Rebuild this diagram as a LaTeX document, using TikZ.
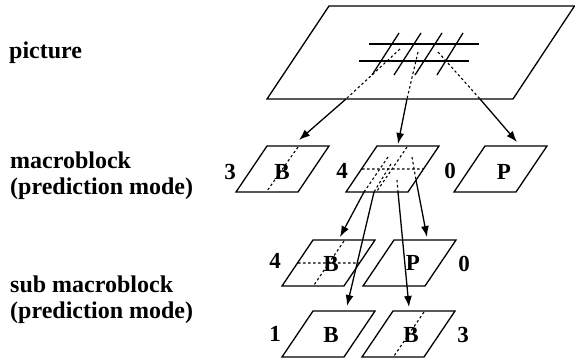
\documentclass[tikz,border=0pt]{standalone}
\usepackage{fontspec}
\setmainfont{Liberation Serif}
\usetikzlibrary{arrows.meta}
\begin{document}
\begin{tikzpicture}[x=1pt,y=-1pt,
  blk/.style={line width=1.3pt, line join=miter},
  dsh/.style={line width=1.1pt, dash pattern=on 2.5pt off 2.5pt},
  arr/.style={line width=1.3pt, -{Latex[length=11pt,width=8pt]}},
  lbl/.style={inner sep=0pt, font=\fontsize{23}{25}\selectfont\bfseries},
  side/.style={inner sep=0pt, anchor=base west, align=left, font=\fontsize{24}{26}\selectfont\bfseries}]
\useasboundingbox (0,0) rectangle (575,362);
% left labels
\node[side] (tpic) at (9,58) {picture};
\node[side] (tmb1) at (10,168) {macroblock};
\node[side] (tmb2) at (10,194) {(prediction mode)};
\node[side] (tsb1) at (10,292) {sub macroblock};
\node[side] (tsb2) at (10,318) {(prediction mode)};
% picture
\draw[blk] (329,6) -- (574.5,6) -- (513,99) -- (267,99) -- cycle;
\draw[blk] (369,44) -- (479,44) (359,61) -- (469,61);
\draw[blk] (399,33) -- (372,75) (421,33) -- (394,75) (442,33) -- (415,75) (463,33) -- (437,75);
% macroblocks
\draw[blk] (267,146) -- (329,146) -- (298,192) -- (236,192) -- cycle;
\draw[blk] (377,146) -- (439,146) -- (408,192) -- (346,192) -- cycle;
\draw[blk] (485,146) -- (547,146) -- (516,192) -- (454,192) -- cycle;
\draw[dsh] (298,147) -- (267,191);
\draw[dsh] (407,147) -- (377,191) (362,169) -- (423,169);
% sub macroblocks
\draw[blk] (313,240) -- (375,240) -- (344,286) -- (282,286) -- cycle;
\draw[blk] (394,240) -- (456,240) -- (425,286) -- (363,286) -- cycle;
\draw[blk] (313,311) -- (375,311) -- (344,357) -- (282,357) -- cycle;
\draw[blk] (393,311) -- (455,311) -- (424,357) -- (362,357) -- cycle;
\draw[dsh] (344,241) -- (314,285) (298,263) -- (359,263);
\draw[dsh] (424,312) -- (394,356);
% labels
\node[lbl] (n3a) at (230,172) {3};
\node[lbl] (bA) at (282,172) {B};
\node[lbl] (n4a) at (342,171) {4};
\node[lbl] (n0a) at (450,171) {0};
\node[lbl] (pA) at (504,172) {P};
\node[lbl] (n4b) at (275,261) {4};
\node[lbl] (bB) at (331,264) {B};
\node[lbl] (pB) at (413,263) {P};
\node[lbl] (n0b) at (464,264) {0};
\node[lbl] (n1c) at (275,334) {1};
\node[lbl] (bC) at (331,335) {B};
\node[lbl] (bD) at (411,335) {B};
\node[lbl] (n3d) at (463,335) {3};
% connectors from picture
\coordinate (p1) at (400,49); \coordinate (q1) at (346,99); \coordinate (r1) at (299,140);
\coordinate (p2) at (418,52); \coordinate (q2) at (407,99); \coordinate (r2) at (398,144);
\coordinate (p3) at (438,52); \coordinate (q3) at (480,99); \coordinate (r3) at (517,142);
\draw[dsh] (p1) -- (q1) (p2) -- (q2) (p3) -- (q3);
\draw[arr] (q1) -- (r1);
\draw[arr] (q2) -- (r2);
\draw[arr] (q3) -- (r3);
% connectors from macroblock 4
\coordinate (s1) at (388,157); \coordinate (t1) at (364,192); \coordinate (u1) at (340,237);
\coordinate (s2) at (391,164); \coordinate (t2) at (374,192); \coordinate (u2) at (347,306);
\coordinate (s3) at (397,180); \coordinate (t3) at (398,192); \coordinate (u3) at (409,307);
\coordinate (s4) at (412,157); \coordinate (t4) at (416,180); \coordinate (u4) at (427,237);
\draw[dsh] (s1) -- (t1) (s2) -- (t2) (s3) -- (t3) (s4) -- (t4);
\draw[arr] (t1) -- (u1);
\draw[arr] (t2) -- (u2);
\draw[arr] (t3) -- (u3);
\draw[arr] (t4) -- (u4);
\end{tikzpicture}
\end{document}
